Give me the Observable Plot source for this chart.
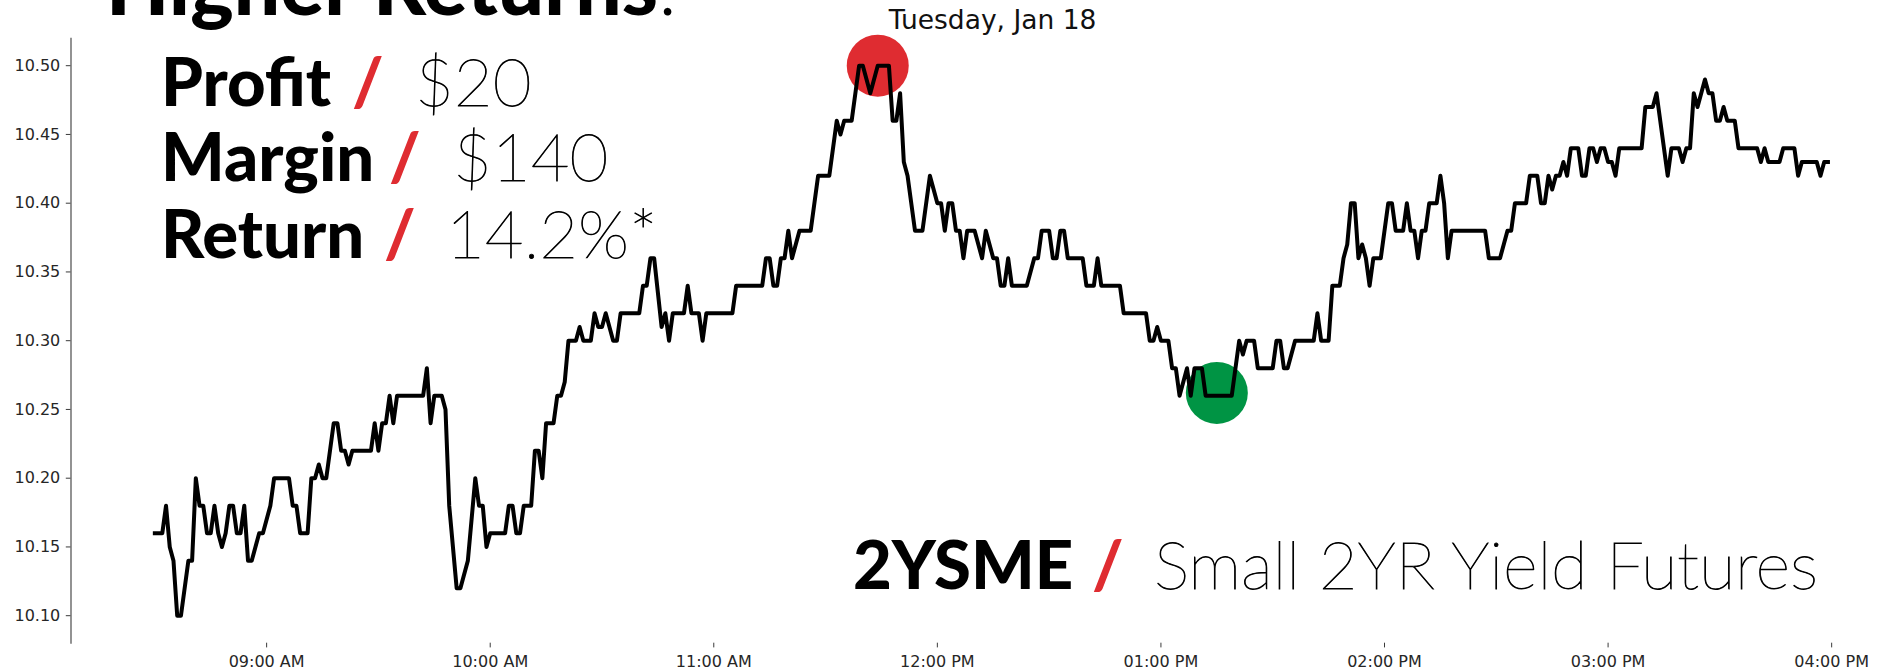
<!DOCTYPE html>
<html><head><meta charset="utf-8">
<script src="https://cdn.jsdelivr.net/npm/d3@7"></script>
<script src="https://cdn.jsdelivr.net/npm/@observablehq/plot@0.6"></script>
<style>
html,body{margin:0;padding:0;background:#fff;}
#wrap{position:relative;width:1877px;height:670px;overflow:hidden;background:#fff;}
#wrap svg.overlay{position:absolute;left:0;top:0;}
</style></head><body><div id="wrap"></div>
<script>
const day = "2022-01-18";
const times = ["08:30","08:32","08:33","08:34","08:35","08:36","08:37","08:39","08:40","08:41","08:42","08:43","08:44","08:45","08:46","08:47","08:48","08:49","08:50","08:51","08:52","08:53","08:54","08:55","08:56","08:58","08:59","09:01","09:02","09:06","09:07","09:08","09:09","09:11","09:12","09:13","09:14","09:15","09:16","09:18","09:19","09:20","09:21","09:22","09:23","09:28","09:29","09:30","09:31","09:32","09:33","09:34","09:35","09:42","09:43","09:44","09:45","09:47","09:48","09:49","09:51","09:52","09:54","09:56","09:57","09:58","09:59","10:00","10:04","10:05","10:06","10:07","10:08","10:09","10:11","10:12","10:13","10:14","10:15","10:17","10:18","10:19","10:20","10:21","10:23","10:24","10:25","10:27","10:28","10:29","10:30","10:31","10:33","10:34","10:35","10:40","10:41","10:42","10:43","10:44","10:46","10:47","10:48","10:49","10:52","10:53","10:54","10:56","10:57","10:58","11:05","11:06","11:13","11:14","11:15","11:16","11:17","11:18","11:19","11:20","11:21","11:23","11:26","11:28","11:31","11:33","11:34","11:35","11:37","11:39","11:40","11:42","11:44","11:47","11:48","11:49","11:50","11:51","11:52","11:54","11:56","11:58","12:00","12:01","12:02","12:03","12:04","12:05","12:06","12:07","12:08","12:10","12:12","12:13","12:15","12:16","12:17","12:18","12:19","12:20","12:24","12:26","12:27","12:28","12:30","12:31","12:32","12:33","12:34","12:35","12:39","12:40","12:42","12:43","12:44","12:49","12:50","12:56","12:57","12:58","12:59","13:00","13:02","13:03","13:04","13:05","13:07","13:08","13:09","13:11","13:12","13:19","13:21","13:22","13:23","13:25","13:26","13:30","13:31","13:32","13:33","13:34","13:36","13:41","13:42","13:43","13:45","13:46","13:48","13:49","13:50","13:51","13:52","13:53","13:54","13:55","13:56","13:57","13:59","14:01","14:02","14:03","14:05","14:06","14:07","14:08","14:09","14:10","14:11","14:12","14:14","14:15","14:16","14:17","14:18","14:27","14:28","14:31","14:33","14:34","14:35","14:38","14:39","14:41","14:42","14:43","14:44","14:45","14:46","14:47","14:48","14:49","14:50","14:52","14:53","14:54","14:55","14:56","14:57","14:58","14:59","15:00","15:01","15:02","15:03","15:09","15:10","15:12","15:13","15:16","15:17","15:19","15:20","15:21","15:22","15:23","15:24","15:25","15:26","15:27","15:28","15:29","15:30","15:31","15:32","15:34","15:35","15:40","15:41","15:42","15:43","15:46","15:47","15:50","15:51","15:52","15:56","15:57","15:58","15:59"];
const yields = [10.16,10.16,10.18,10.15,10.14,10.10,10.10,10.14,10.14,10.20,10.18,10.18,10.16,10.16,10.18,10.16,10.15,10.16,10.18,10.18,10.16,10.16,10.18,10.14,10.14,10.16,10.16,10.18,10.20,10.20,10.18,10.18,10.16,10.16,10.20,10.20,10.21,10.20,10.20,10.24,10.24,10.22,10.22,10.21,10.22,10.22,10.24,10.22,10.24,10.24,10.26,10.24,10.26,10.26,10.28,10.24,10.26,10.26,10.25,10.18,10.12,10.12,10.14,10.20,10.18,10.18,10.15,10.16,10.16,10.18,10.18,10.16,10.16,10.18,10.18,10.22,10.22,10.20,10.24,10.24,10.26,10.26,10.27,10.30,10.30,10.31,10.30,10.30,10.32,10.31,10.31,10.32,10.30,10.30,10.32,10.32,10.34,10.34,10.36,10.36,10.31,10.32,10.30,10.32,10.32,10.34,10.32,10.32,10.30,10.32,10.32,10.34,10.34,10.36,10.36,10.34,10.34,10.36,10.36,10.38,10.36,10.38,10.38,10.42,10.42,10.46,10.45,10.46,10.46,10.50,10.50,10.48,10.50,10.50,10.46,10.46,10.48,10.43,10.42,10.38,10.38,10.42,10.40,10.40,10.38,10.40,10.40,10.38,10.38,10.36,10.38,10.38,10.36,10.38,10.36,10.36,10.34,10.34,10.36,10.34,10.34,10.36,10.36,10.38,10.38,10.36,10.36,10.38,10.38,10.36,10.36,10.34,10.34,10.36,10.34,10.34,10.32,10.32,10.30,10.30,10.31,10.30,10.30,10.28,10.28,10.26,10.28,10.26,10.28,10.28,10.26,10.26,10.30,10.29,10.30,10.30,10.28,10.28,10.30,10.30,10.28,10.28,10.30,10.30,10.32,10.30,10.30,10.34,10.34,10.36,10.37,10.40,10.40,10.36,10.37,10.36,10.34,10.36,10.36,10.40,10.40,10.38,10.38,10.40,10.38,10.38,10.36,10.38,10.38,10.40,10.40,10.42,10.40,10.36,10.38,10.38,10.36,10.36,10.38,10.38,10.40,10.40,10.42,10.42,10.40,10.40,10.42,10.41,10.42,10.42,10.43,10.42,10.44,10.44,10.42,10.42,10.44,10.44,10.43,10.44,10.44,10.43,10.43,10.42,10.44,10.44,10.47,10.47,10.48,10.42,10.44,10.44,10.43,10.44,10.44,10.48,10.47,10.48,10.49,10.48,10.48,10.46,10.46,10.47,10.46,10.46,10.44,10.44,10.43,10.44,10.43,10.43,10.44,10.44,10.42,10.43,10.43,10.42,10.43,10.43];
const markerTimes = ["11:44","13:15"];
const markerYields = [10.50, 10.262];
const markerColors = ["#df2c31","#009444"];
const yTicks = [10.10,10.15,10.20,10.25,10.30,10.35,10.40,10.45,10.50];
const xTickTimes = ["09:00","10:00","11:00","12:00","13:00","14:00","15:00","16:00"];
const xDomainTimes = ["08:07:30","16:22:30"];
const yDomain = [10.08, 10.52];
const chartTitle = "Tuesday, Jan 18";
const headline = "Higher Returns";
const statLabels = ["Profit","Margin","Return"];
const statValues = ["$20","$140","14.2%*"];
const productCode = "2YSME";
const productName = "Small 2YR Yield Futures";

const parseT = d3.utcParse("%Y-%m-%d %H:%M");
const parseS = d3.utcParse("%Y-%m-%d %H:%M:%S");
const series = times.map((t, i) => ({time: parseT(day + " " + t), value: yields[i]}));
const markers = markerTimes.map((t, i) => ({time: parseT(day + " " + t), value: markerYields[i], color: markerColors[i]}));
const xTicks = xTickTimes.map(t => parseT(day + " " + t));
const xDomain = xDomainTimes.map(t => parseS(day + " " + t));

const W = 1877, H = 670;
const chart = Plot.plot({
  width: W, height: H,
  marginLeft: 70.5, marginRight: 0, marginTop: 37.7, marginBottom: 27.3,
  x: {type: "utc", domain: xDomain, range: [70.5, 1915]},
  y: {domain: yDomain},
  color: {type: "identity"},
  style: {fontFamily: "'DejaVu Sans', sans-serif", fontSize: "16px", color: "#262626", background: "white", overflow: "hidden"},
  marks: [
    Plot.frame({anchor: "left", stroke: "#3a3a3a", strokeWidth: 1.1}),
    Plot.axisY({ticks: yTicks, tickFormat: d3.format(".2f"), tickSize: 4.7, tickPadding: 6, fontSize: 16, label: null, stroke: "#3a3a3a"}),
    Plot.axisX({ticks: xTicks, tickFormat: d3.utcFormat("%I:%M %p"), tickSize: 4.7, tickPadding: 8, fontSize: 16, label: null, stroke: "#3a3a3a"}),
    Plot.dot(markers, {x: "time", y: "value", r: 31, fill: "color", stroke: "none"}),
    Plot.line(series, {x: "time", y: "value", stroke: "#000", strokeWidth: 4, strokeLinejoin: "round", strokeLinecap: "square"})
  ]
});
const wrap = document.getElementById("wrap");
wrap.appendChild(chart);

// overlay text
const BOLD = "Lato, 'Liberation Sans', sans-serif";
const THIN = "Lato, 'Roboto', sans-serif";
const RED = "#df2c31";
const ov = d3.create("svg").attr("class", "overlay").attr("width", W).attr("height", H);
const t0 = ov.append("text").attr("x", 106).attr("y", 15).attr("font-family", BOLD).attr("font-weight", 900).attr("font-size", 82).attr("fill", "#000");
t0.append("tspan").text(headline);
t0.append("tspan").attr("font-weight", 300).text(".");
ov.append("text").attr("x", 992.6).attr("y", 29.3).attr("text-anchor", "middle")
  .attr("font-family", "'DejaVu Sans', sans-serif").attr("font-size", 26.5).attr("fill", "#111").text(chartTitle);

function thin(sel) {
  return sel.attr("font-family", THIN).attr("font-weight", 200).attr("fill", "#000")
    .attr("stroke", "#000").attr("stroke-width", 0.8);
}
const rowBase = [106, 181, 258];
const slashX = [352, 389, 384];
const valX = [415, 453, 446];
statLabels.forEach((lab, i) => {
  ov.append("text").attr("x", 161).attr("y", rowBase[i]).attr("font-family", BOLD).attr("font-weight", 900).attr("font-size", 67).attr("fill", "#000").text(lab);
  ov.append("text").attr("x", slashX[i]).attr("y", rowBase[i]).attr("font-family", BOLD).attr("font-weight", 900).attr("font-size", 67).attr("fill", RED).text("/");
  thin(ov.append("text").attr("x", valX[i]).attr("y", rowBase[i]).attr("font-size", 67).text(statValues[i]));
});
ov.append("text").attr("x", 853).attr("y", 589).attr("font-family", BOLD).attr("font-weight", 900).attr("font-size", 67).attr("fill", "#000").text(productCode);
ov.append("text").attr("x", 1092).attr("y", 589).attr("font-family", BOLD).attr("font-weight", 900).attr("font-size", 67).attr("fill", RED).text("/");
thin(ov.append("text").attr("x", 1154).attr("y", 589).attr("font-size", 67).attr("textLength", 664).attr("lengthAdjust", "spacing").text(productName));
wrap.appendChild(ov.node());
</script></body></html>
